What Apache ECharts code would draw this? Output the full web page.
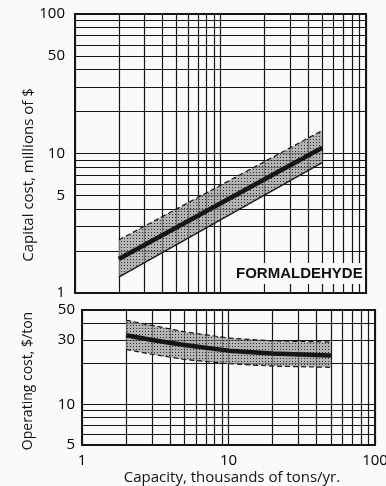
<!DOCTYPE html>
<html>
<head>
<meta charset="utf-8">
<script src="https://cdn.jsdelivr.net/npm/echarts@6/dist/echarts.min.js"></script>
<style>
  html, body { margin: 0; padding: 0; background: #fafafa; }
  #chart { width: 386px; height: 486px; }
</style>
</head>
<body>
<div id="chart"></div>
<script>
// Log-paper grid values
const capacityGrid = [1, 2, 3, 4, 5, 6, 7, 8, 9, 10, 20, 30, 40, 50, 60, 70, 80, 90, 100];
const capacityLabels = [1, 10, 100];
const capitalGrid = [1, 2, 3, 4, 5, 6, 7, 8, 9, 10, 20, 30, 40, 50, 60, 70, 80, 90, 100];
const capitalLabels = [1, 5, 10, 50, 100];
const operatingGrid = [5, 6, 7, 8, 9, 10, 20, 30, 40, 50];
const operatingLabels = [5, 10, 30, 50];

// Capital cost (millions of $) vs capacity (thousands of tons/yr)
const capitalCapacity = [2, 50];
const capitalMid = [1.75, 11];
const capitalHigh = [2.4, 14.6];
const capitalLow = [1.3, 8.6];

// Operating cost ($/ton) vs capacity
const operatingCapacity = [2, 3, 5, 10, 20, 50];
const operatingMid = [32.5, 30, 27.5, 25, 23.8, 23];
const operatingHigh = [42, 38.5, 34.5, 31, 29.5, 29];
const operatingLow = [25.5, 23.5, 21.5, 20, 19.2, 18.8];

// Halftone stipple used to fill the uncertainty bands
const stipple = document.createElement('canvas');
stipple.width = 3; stipple.height = 3;
(function () {
  const c = stipple.getContext('2d');
  c.fillStyle = 'rgba(150,150,150,0.7)';
  c.fillRect(0, 0, 3, 3);
  c.fillStyle = 'rgba(30,30,30,0.9)';
  c.fillRect(1, 1, 1, 1);
})();

const FONT = '"Open Sans", "DejaVu Sans", sans-serif';
const INK = '#151515';

function pairs(xs, ys) { return xs.map((x, i) => [x, ys[i]]); }

function bandSeries(xi, yi, xs, lo, hi) {
  return {
    type: 'custom',
    xAxisIndex: xi, yAxisIndex: yi,
    silent: true,
    z: 1,
    data: [[xs[0], lo[0]]],
    renderItem: function (params, api) {
      const top = xs.map((x, i) => api.coord([x, hi[i]]));
      const bot = xs.map((x, i) => api.coord([x, lo[i]])).reverse();
      return {
        type: 'polygon',
        shape: { points: top.concat(bot) },
        style: { fill: { image: stipple, repeat: 'repeat' } }
      };
    }
  };
}

function edge(xi, yi, xs, ys, dashed, width) {
  return {
    type: 'line', xAxisIndex: xi, yAxisIndex: yi,
    data: pairs(xs, ys), symbol: 'none', silent: true, z: 3,
    lineStyle: { color: INK, width: width, type: dashed ? [5, 3] : 'solid' }
  };
}

function logAxis(gridIndex, min, max, grid, labels, showLabels, margin) {
  return {
    type: 'log', logBase: 10, gridIndex: gridIndex, min: min, max: max,
    axisLine: { show: false },
    axisTick: { show: false, customValues: grid },
    axisLabel: {
      show: showLabels, customValues: labels, margin: margin,
      color: '#000', fontSize: 15, fontFamily: FONT,
      formatter: v => String(Math.round(v))
    },
    splitLine: { show: true, lineStyle: { color: INK, width: 1.2 } },
    minorSplitLine: { show: false }
  };
}

const chart = echarts.init(document.getElementById('chart'), null, { renderer: 'canvas' });
chart.setOption({
  animation: false,
  backgroundColor: '#fafafa',
  grid: [
    { left: 75, right: 20, top: 14, height: 279, show: true, borderColor: INK, borderWidth: 2, backgroundColor: 'transparent', outerBoundsMode: 'none' },
    { left: 82, right: 11, top: 310, height: 135, show: true, borderColor: INK, borderWidth: 2, backgroundColor: 'transparent', outerBoundsMode: 'none' }
  ],
  xAxis: [
    logAxis(0, 1, 100, capacityGrid, capacityLabels, false, 8),
    logAxis(1, 1, 100, capacityGrid, capacityLabels, true, 8)
  ],
  yAxis: [
    logAxis(0, 1, 100, capitalGrid, capitalLabels, true, 10),
    logAxis(1, 5, 50, operatingGrid, operatingLabels, true, 7)
  ],
  graphic: [
    {
      type: 'text', left: 234, top: 263, z: 10,
      style: {
        text: 'FORMALDEHYDE', font: 'bold 15px "Liberation Sans", Arial, sans-serif',
        fill: '#111', backgroundColor: '#fafafa', padding: [3, 2, 3, 2]
      }
    },
    {
      type: 'text', x: 29, y: 175, rotation: Math.PI / 2,
      style: { text: 'Capital cost, millions of $', font: '15px ' + FONT, fill: '#111', align: 'center', verticalAlign: 'middle' }
    },
    {
      type: 'text', x: 28, y: 381, rotation: Math.PI / 2,
      style: { text: 'Operating cost, $/ton', font: '14px ' + FONT, fill: '#111', align: 'center', verticalAlign: 'middle' }
    },
    {
      type: 'text', x: 232, y: 478,
      style: { text: 'Capacity, thousands of tons/yr.', font: '15px ' + FONT, fill: '#111', align: 'center', verticalAlign: 'middle' }
    }
  ],
  series: [
    bandSeries(0, 0, capitalCapacity, capitalLow, capitalHigh),
    edge(0, 0, capitalCapacity, capitalHigh, true, 1.2),
    edge(0, 0, capitalCapacity, capitalLow, false, 1.2),
    edge(0, 0, capitalCapacity, capitalMid, false, 4.5),

    bandSeries(1, 1, operatingCapacity, operatingLow, operatingHigh),
    edge(1, 1, operatingCapacity, operatingHigh, true, 1.2),
    edge(1, 1, operatingCapacity, operatingLow, true, 1.2),
    edge(1, 1, operatingCapacity, operatingMid, false, 4.5)
  ]
});
</script>
</body>
</html>
